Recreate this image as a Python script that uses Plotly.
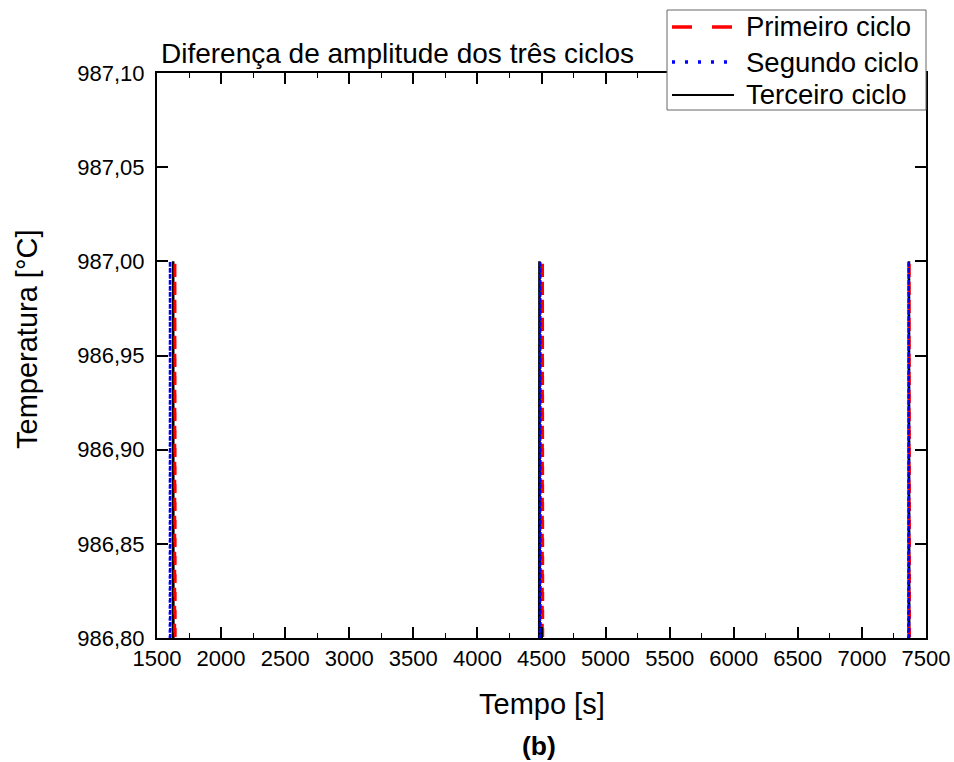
import plotly.graph_objects as go

# Temperature peaks of the three heating cycles (time in s, temperature in °C)
tempo_primeiro = [1630, 1640, 1650, None, 4500, 4508, 4516, None, 7356, 7369, 7382]
temp_primeiro = [986.0, 987.0, 986.0, None, 986.0, 987.0, 986.0, None, 986.0, 987.0, 986.0]

tempo_segundo = [1596, 1602, 1608, None, 4482, 4490, 4498, None, 7355, 7365, 7375]
temp_segundo = [986.0, 987.0, 986.0, None, 986.0, 987.0, 986.0, None, 986.0, 987.0, 986.0]

tempo_terceiro = [1619, 1626, 1633, None, 4476, 4484, 4492, None, 7360, 7367, 7374]
temp_terceiro = [986.0, 987.0, 986.0, None, 986.0, 987.0, 986.0, None, 986.0, 987.0, 986.0]

series_names = ["Primeiro ciclo", "Segundo ciclo", "Terceiro ciclo"]

x_ticks = [1500, 2000, 2500, 3000, 3500, 4000, 4500, 5000, 5500, 6000, 6500, 7000, 7500]
y_ticks = [986.80, 986.85, 986.90, 986.95, 987.00, 987.05, 987.10]

FONT = "Liberation Sans, Arial, sans-serif"

# Plot-area geometry in pixels (figure 954 x 762)
L, R, T, B = 157, 926, 73, 638
PW, PH = R - L, B - T


def px_x(p):
    return (p - L) / PW


def px_y(p):
    return (B - p) / PH


styles = [
    dict(color="#ff0000", width=3, dash="dash"),
    dict(color="#0000ff", width=2.6, dash="dot"),
    dict(color="black", width=2.6, dash="solid"),
]
legend_styles = [
    dict(color="#ff0000", width=3.5, dash="20px,20px"),
    dict(color="#0000ff", width=3.5, dash="3px,10px"),
    dict(color="black", width=2, dash="solid"),
]

fig = go.Figure()

# Third cycle drawn first so the other two sit on top of it
for xs, ys, name, st in [
    (tempo_terceiro, temp_terceiro, series_names[2], styles[2]),
    (tempo_primeiro, temp_primeiro, series_names[0], styles[0]),
    (tempo_segundo, temp_segundo, series_names[1], styles[1]),
]:
    fig.add_trace(go.Scatter(x=xs, y=ys, mode="lines", name=name, line=st,
                             connectgaps=False, showlegend=False))

axis_common = dict(
    showline=True, linecolor="black", linewidth=2, mirror="ticks",
    ticks="inside", ticklen=11, tickwidth=1.6, tickcolor="black",
    showgrid=False, zeroline=False,
    tickfont=dict(family=FONT, size=22, color="black"),
)

fig.update_xaxes(
    range=[1500, 7500], tickvals=x_ticks,
    minor=dict(ticks="inside", ticklen=5, tickwidth=1.4, dtick=250, tick0=1500,
               tickcolor="black", showgrid=False),
    **axis_common,
)
fig.update_yaxes(
    range=[986.80, 987.10], tickvals=y_ticks, tickformat=".2f",
    ticklabelstandoff=6,
    **axis_common,
)

# Legend box drawn in paper coordinates
shapes = [dict(type="rect", xref="paper", yref="paper",
               x0=px_x(667), x1=px_x(926), y0=px_y(110), y1=px_y(10),
               fillcolor="white", line=dict(color="#666666", width=1), layer="above")]
annotations = []
row_y = [27, 62, 95]
for name, st, ry in zip(series_names, legend_styles, row_y):
    shapes.append(dict(type="line", xref="paper", yref="paper",
                       x0=px_x(672), x1=px_x(734), y0=px_y(ry), y1=px_y(ry),
                       line=st, layer="above"))
    annotations.append(dict(text=name, xref="paper", yref="paper",
                            x=px_x(744), y=px_y(ry), xanchor="left", yanchor="middle",
                            showarrow=False,
                            font=dict(family=FONT, size=27.5, color="black")))

annotations += [
    dict(text="Diferença de amplitude dos três ciclos", xref="paper", yref="paper",
         x=px_x(159), y=px_y(54), xanchor="left", yanchor="middle",
         showarrow=False, font=dict(family=FONT, size=28, color="black")),
    dict(text="Tempo [s]", xref="paper", yref="paper",
         x=px_x(542), y=px_y(704), xanchor="center", yanchor="middle",
         showarrow=False, font=dict(family=FONT, size=29, color="black")),
    dict(text="<b>(b)</b>", xref="paper", yref="paper",
         x=px_x(539), y=px_y(746), xanchor="center", yanchor="middle",
         showarrow=False, font=dict(family=FONT, size=26.5, color="black")),
    dict(text="Temperatura [°C]", xref="paper", yref="paper", textangle=-90,
         x=px_x(27), y=px_y(339), xanchor="center", yanchor="middle",
         showarrow=False, font=dict(family=FONT, size=29, color="black")),
]

fig.update_layout(
    width=954, height=762,
    margin=dict(l=L, r=954 - R, t=T, b=762 - B, autoexpand=False),
    paper_bgcolor="white", plot_bgcolor="white",
    separators=", ",
    font=dict(family=FONT, color="black"),
    showlegend=False,
    shapes=shapes,
    annotations=annotations,
)

fig.write_html("out.html")
